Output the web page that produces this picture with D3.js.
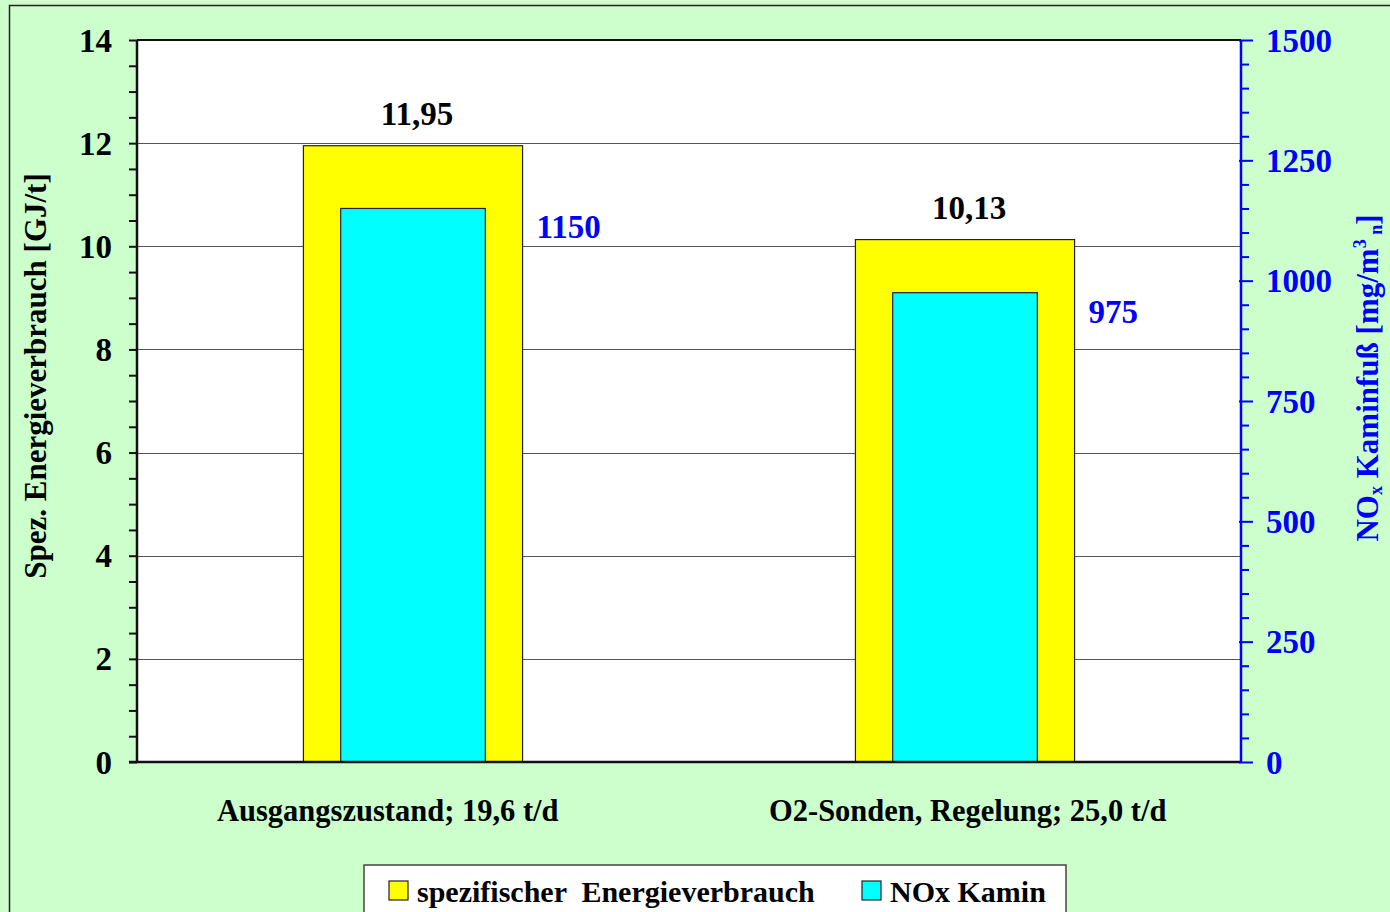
<!DOCTYPE html>
<meta charset="utf-8">
<style>
body { margin: 0; background: #ccffcc; }
svg { display: block; font-family: "Liberation Serif", "Times New Roman", serif; font-weight: bold; }
</style>
<svg width="1390" height="912"></svg>
<script src="https://cdn.jsdelivr.net/npm/d3@7"></script>
<script>

var categories = ["Ausgangszustand; 19,6 t/d", "O2-Sonden, Regelung; 25,0 t/d"],
    energy = [11.95, 10.13],
    nox = [1150, 975],
    energyLabels = ["11,95", "10,13"],
    leftTicks = [0, 2, 4, 6, 8, 10, 12, 14],
    rightTicks = [0, 250, 500, 750, 1000, 1250, 1500];

var svg = d3.select("svg"),
    width = +svg.attr("width"),
    height = +svg.attr("height");

var margin = {top: 40, right: 149, bottom: 150, left: 137},
    w = width - margin.left - margin.right,
    h = 912 - margin.top - margin.bottom;

// outer chart frame
svg.append("rect")
    .attr("x", 9.5).attr("y", 5.5)
    .attr("width", width).attr("height", height)
    .attr("fill", "#ccffcc")
    .attr("stroke", "#222").attr("stroke-width", 1.5);

var g = svg.append("g").attr("transform", "translate(" + margin.left + "," + margin.top + ")");

var x = d3.scaleBand().domain(categories).range([0, w]);
var yL = d3.scaleLinear().domain([0, 14]).range([h, 0]);
var yR = d3.scaleLinear().domain([0, 1500]).range([h, 0]);

g.append("rect").attr("width", w).attr("height", h).attr("fill", "#fff");

// gridlines
g.selectAll(".grid")
    .data(leftTicks.slice(1, -1))
  .enter().append("line")
    .attr("x1", 0).attr("x2", w)
    .attr("y1", function(d) { return Math.round(yL(d)) + 0.5; })
    .attr("y2", function(d) { return Math.round(yL(d)) + 0.5; })
    .attr("stroke", "#555").attr("stroke-width", 1);

g.append("line").attr("x1", 0).attr("x2", w).attr("y1", 0).attr("y2", 0)
    .attr("stroke", "#111").attr("stroke-width", 2);

// yellow bars (energy), cyan bars (NOx) in front
var bw = x.bandwidth() * 0.397,
    cw = x.bandwidth() * 0.262;

g.selectAll(".energy")
    .data(energy)
  .enter().append("rect")
    .attr("x", function(d, i) { return x(categories[i]) + x.bandwidth() / 2 - bw / 2; })
    .attr("y", function(d) { return yL(d); })
    .attr("width", bw)
    .attr("height", function(d) { return h - yL(d); })
    .attr("fill", "#ffff00").attr("stroke", "#222").attr("stroke-width", 1.2);

g.selectAll(".nox")
    .data(nox)
  .enter().append("rect")
    .attr("x", function(d, i) { return x(categories[i]) + x.bandwidth() / 2 - cw / 2; })
    .attr("y", function(d) { return yR(d); })
    .attr("width", cw)
    .attr("height", function(d) { return h - yR(d); })
    .attr("fill", "#00ffff").attr("stroke", "#222").attr("stroke-width", 1.2);

// value labels
g.selectAll(".elab")
    .data(energy)
  .enter().append("text")
    .attr("x", function(d, i) { return x(categories[i]) + x.bandwidth() / 2 + 4; })
    .attr("y", function(d) { return yL(d) - 21; })
    .attr("text-anchor", "middle")
    .attr("font-size", 33)
    .text(function(d, i) { return energyLabels[i]; });

g.selectAll(".nlab")
    .data(nox)
  .enter().append("text")
    .attr("x", function(d, i) { return x(categories[i]) + x.bandwidth() / 2 + bw / 2 + 14; })
    .attr("y", function(d) { return yR(d) + 30; })
    .attr("font-size", 33)
    .attr("fill", "#0000ff")
    .text(function(d) { return d; });

// left axis
var left = g.append("g")
    .call(d3.axisLeft(yL).tickValues(d3.range(0, 14.01, 0.5)).tickSize(8).tickFormat(""));
left.select(".domain").attr("stroke", "#111").attr("stroke-width", 2.5).attr("d", "M0," + h + "V0");
left.selectAll(".tick line").attr("stroke", "#111").attr("stroke-width", 2);
g.selectAll(".ltl")
    .data(leftTicks)
  .enter().append("text")
    .attr("x", -25).attr("y", function(d) { return yL(d); })
    .attr("dy", "0.35em").attr("text-anchor", "end")
    .attr("font-size", 33)
    .text(function(d) { return d; });

// bottom line
g.append("line").attr("x1", -8).attr("x2", w).attr("y1", h).attr("y2", h)
    .attr("stroke", "#111").attr("stroke-width", 2.5);

// right axis
var right = g.append("g").attr("transform", "translate(" + w + ",0)")
    .call(d3.axisRight(yR).tickValues(d3.range(0, 1500.1, 50)).tickSize(8).tickFormat(""));
right.select(".domain").attr("stroke", "#0000ff").attr("stroke-width", 2.5).attr("d", "M0," + h + "V0");
right.selectAll(".tick line").attr("stroke", "#0000ff").attr("stroke-width", 2)
    .attr("x1", function(d) { return d % 250 === 0 ? -2 : 0; })
    .attr("x2", function(d) { return d % 250 === 0 ? 12 : 8; });
g.selectAll(".rtl")
    .data(rightTicks)
  .enter().append("text")
    .attr("x", w + 25).attr("y", function(d) { return yR(d); })
    .attr("dy", "0.35em")
    .attr("font-size", 33).attr("fill", "#0000ff")
    .text(function(d) { return d; });

// category labels (left-aligned off the band centre)
g.selectAll(".cat")
    .data(categories)
  .enter().append("text")
    .attr("x", function(d) { return x(d) + x.bandwidth() / 2 - 196; })
    .attr("y", h + 59)
    .attr("font-size", 30.5)
    .text(function(d) { return d; });

// axis titles
svg.append("text")
    .attr("transform", "translate(46," + (margin.top + h / 2 - 25) + ") rotate(-90)")
    .attr("text-anchor", "middle")
    .attr("font-size", 31)
    .text("Spez. Energieverbrauch [GJ/t]");

var rt = svg.append("text")
    .attr("transform", "translate(1378," + (margin.top + h / 2 - 23) + ") rotate(-90)")
    .attr("text-anchor", "middle")
    .attr("font-size", 31)
    .attr("fill", "#0000ff");
rt.append("tspan").text("NO");
rt.append("tspan").attr("font-size", 18).attr("dy", 4).text("x");
rt.append("tspan").attr("dy", -4).text(" Kaminfuß [mg/m");
rt.append("tspan").attr("font-size", 18).attr("dy", -12).text("3");
rt.append("tspan").attr("font-size", 18).attr("dy", 16).text(" n");
rt.append("tspan").attr("dy", -4).text("]");

// legend
var legend = svg.append("g").attr("transform", "translate(364,865)");
legend.append("rect").attr("width", 702).attr("height", 60)
    .attr("fill", "#fff").attr("stroke", "#444").attr("stroke-width", 1.5);
var items = [
  {name: "spezifischer  Energieverbrauch", color: "#ffff00", x: 25},
  {name: "NOx Kamin", color: "#00ffff", x: 498}
];
items.forEach(function(d) {
  legend.append("rect").attr("x", d.x).attr("y", 16).attr("width", 19).attr("height", 19)
      .attr("fill", d.color).attr("stroke", "#222").attr("stroke-width", 1.2);
  legend.append("text").attr("x", d.x + 28).attr("y", 37)
      .attr("font-size", 30)
      .style("white-space", "pre")
      .text(d.name);
});

</script>
